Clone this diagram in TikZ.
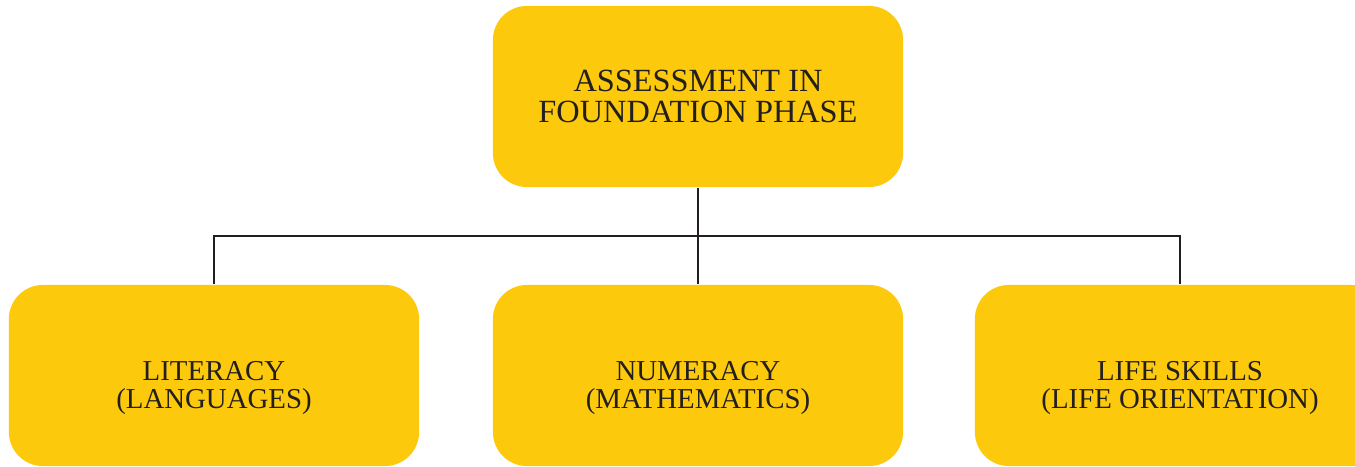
\documentclass[tikz,border=0pt]{standalone}
\usepackage{fontspec}
\setmainfont{Liberation Serif}
\usepackage{xcolor}
\usetikzlibrary{calc}
\definecolor{boxyellow}{HTML}{FCC90C}
\definecolor{inkgray}{HTML}{231F20}

\tikzset{
  phasebox/.style={fill=boxyellow, rounded corners=0.34cm, minimum width=4.1cm, minimum height=1.81cm, inner sep=0pt},
  toptext/.style={align=center, text=inkgray, font=\fontsize{9.2}{8.8}\selectfont, inner sep=0pt},
  subtext/.style={align=center, text=inkgray, font=\fontsize{8.2}{7.7}\selectfont, inner sep=0pt},
  link/.style={inkgray, line width=0.6pt}
}

\begin{document}
\begin{tikzpicture}[x=0.01cm, y=-0.01cm]
  \useasboundingbox (0,0) rectangle (1355,467);

  % boxes
  \node[phasebox] (phase) at (698,96.5) {};
  \node[phasebox] (lit) at (214,375.5) {};
  \node[phasebox] (num) at (698,375.5) {};
  \node[phasebox] (life) at (1180,375.5) {};

  % labels
  \node[toptext] (phasetext) at (698,96.5) {ASSESSMENT IN\\FOUNDATION PHASE};
  \node[subtext] (littext) at (214,388) {LITERACY\\(LANGUAGES)};
  \node[subtext] (numtext) at (698,388) {NUMERACY\\(MATHEMATICS)};
  \node[subtext] (lifetext) at (1180,388) {LIFE SKILLS\\(LIFE ORIENTATION)};

  % connectors
  \coordinate (bus) at (698,236);
  \draw[link] (phase.south) -- (num.north);
  \draw[link] (lit.north) -- (lit.north |- bus) -- (life.north |- bus) -- (life.north);
\end{tikzpicture}
\end{document}
